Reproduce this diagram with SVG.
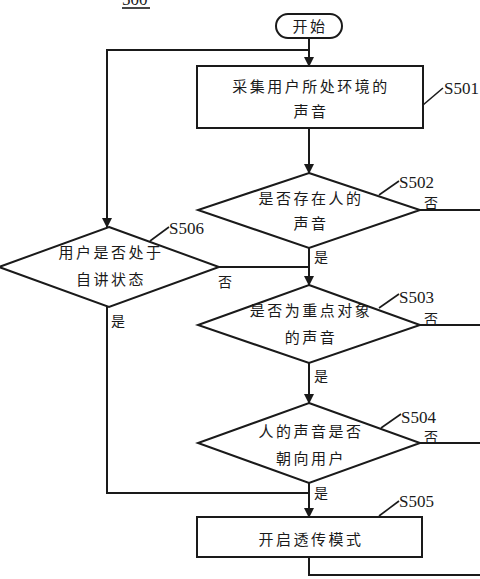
<svg xmlns="http://www.w3.org/2000/svg" width="480" height="579" viewBox="0 0 480 579">
<defs>
<marker id="arr" markerWidth="10" markerHeight="10" refX="9" refY="5" orient="auto" markerUnits="userSpaceOnUse">
<path d="M0,0 L10,5 L0,10 Z" fill="#1a1a1a"/>
</marker>
<style>
.shape{fill:#fff;stroke:#1a1a1a;stroke-width:2}
.ln{fill:none;stroke:#1a1a1a;stroke-width:2}
.lead{fill:none;stroke:#1a1a1a;stroke-width:1.6}
.cn{font-family:"Noto Sans CJK SC",sans-serif;font-size:15px;fill:#1a1a1a;text-anchor:middle;letter-spacing:2.5px}
.yn{font-family:"Noto Sans CJK SC",sans-serif;font-size:14px;fill:#1a1a1a}
.lb{font-family:"Liberation Serif",serif;font-size:17px;fill:#1a1a1a}
</style>
</defs>
<rect width="480" height="579" fill="#fff"/>
<text class="lb" x="122" y="5">500</text>
<line x1="122" y1="8" x2="150" y2="8" class="lead"/>
<g id="connectors">
<line class="ln" x1="309" y1="38" x2="309" y2="66" marker-end="url(#arr)"/>
<polyline class="ln" points="309,50 107,50 107,227" marker-end="url(#arr)"/>
<line class="ln" x1="309" y1="128" x2="309" y2="173" marker-end="url(#arr)"/>
<line class="ln" x1="420" y1="210" x2="480" y2="210"/>
<line class="ln" x1="309" y1="248" x2="309" y2="285" marker-end="url(#arr)"/>
<line class="ln" x1="219" y1="267" x2="309" y2="267"/>
<polyline class="ln" points="107,307 107,493 309,493"/>
<line class="ln" x1="420" y1="325" x2="480" y2="325"/>
<line class="ln" x1="309" y1="363" x2="309" y2="403" marker-end="url(#arr)"/>
<line class="ln" x1="420" y1="443" x2="480" y2="443"/>
<line class="ln" x1="309" y1="483" x2="309" y2="517" marker-end="url(#arr)"/>
<polyline class="ln" points="309,557 309,575 480,575"/>
<text class="yn" x="424" y="208">否</text>
<text class="yn" x="314" y="262">是</text>
<text class="yn" x="218" y="287">否</text>
<text class="yn" x="111" y="326">是</text>
<text class="yn" x="424" y="324">否</text>
<text class="yn" x="314" y="381">是</text>
<text class="yn" x="424" y="442">否</text>
<text class="yn" x="314" y="498">是</text>
</g>
<g id="start">
<rect class="shape" x="276" y="14" width="66" height="24" rx="12"/>
<text class="cn" x="310" y="32">开始</text>
</g>
<g id="S501">
<rect class="shape" x="197" y="66" width="226" height="62"/>
<text class="cn" x="311" y="92">采集用户所处环境的</text>
<text class="cn" x="311" y="117">声音</text>
<line class="lead" x1="423" y1="105" x2="443" y2="88"/>
<text class="lb" x="444" y="94">S501</text>
</g>
<g id="S502">
<polygon class="shape" points="309,173 420,210 309,248 198,210"/>
<text class="cn" x="311" y="204">是否存在人的</text>
<text class="cn" x="311" y="229">声音</text>
<line class="lead" x1="379" y1="195" x2="399" y2="181"/>
<text class="lb" x="399" y="188">S502</text>
</g>
<g id="S506">
<polygon class="shape" points="109,227 219,267 109,307 -1,267"/>
<text class="cn" x="111" y="258">用户是否处于</text>
<text class="cn" x="111" y="285">自讲状态</text>
<line class="lead" x1="150" y1="241" x2="169" y2="227"/>
<text class="lb" x="169" y="234">S506</text>
</g>
<g id="S503">
<polygon class="shape" points="309,285 420,325 309,363 198,325"/>
<text class="cn" x="311" y="316">是否为重点对象</text>
<text class="cn" x="311" y="343">的声音</text>
<line class="lead" x1="379" y1="308" x2="399" y2="294"/>
<text class="lb" x="399" y="303">S503</text>
</g>
<g id="S504">
<polygon class="shape" points="309,403 420,443 309,483 198,443"/>
<text class="cn" x="311" y="437">人的声音是否</text>
<text class="cn" x="311" y="464">朝向用户</text>
<line class="lead" x1="381" y1="428" x2="401" y2="414"/>
<text class="lb" x="401" y="423">S504</text>
</g>
<g id="S505">
<rect class="shape" x="197" y="517" width="225" height="40"/>
<text class="cn" x="311" y="545">开启透传模式</text>
<line class="lead" x1="379" y1="516" x2="399" y2="501"/>
<text class="lb" x="399" y="507">S505</text>
</g>
</svg>
